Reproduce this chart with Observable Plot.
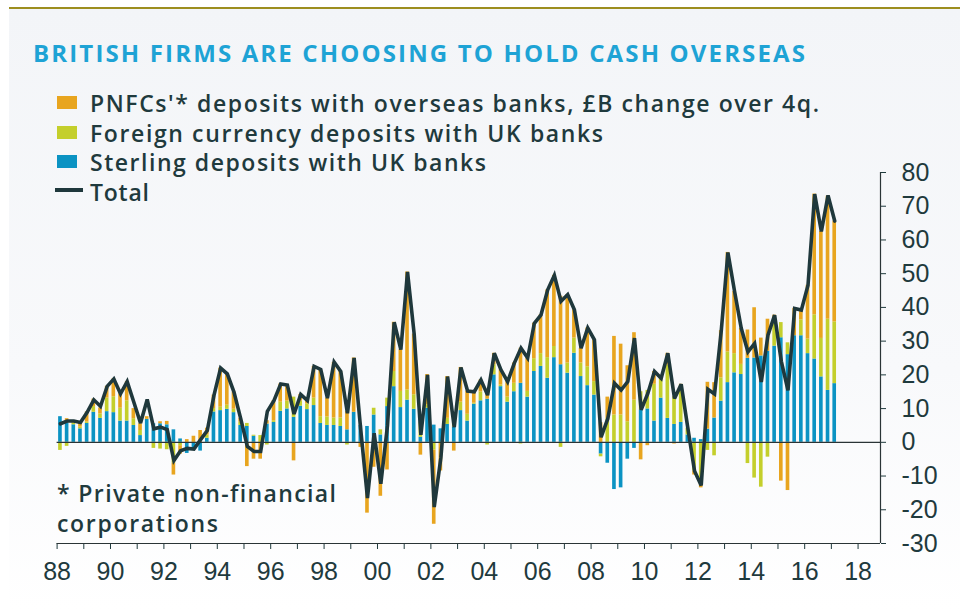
<!DOCTYPE html>
<html><head><meta charset="utf-8">
<script src="https://cdn.jsdelivr.net/npm/d3@7"></script>
<script src="https://cdn.jsdelivr.net/npm/@observablehq/plot@0.6"></script>
<style>
html,body{margin:0;padding:0;background:#fff;}
#wrap{position:relative;width:960px;height:610px;overflow:hidden;}
#panel{position:absolute;left:9px;top:7px;right:0;bottom:0;background:linear-gradient(#f3f5f8,#f8f9fb 60%,#ffffff);border-top:2.5px solid #9d8e1e;}
#chart{position:absolute;left:0;top:0;}
.t{position:absolute;white-space:nowrap;color:#1f3a3d;font-family:"Open Sans";font-weight:600;font-size:23px;line-height:23px;}
#title{color:#1ea3d5;font-family:"Open Sans";font-weight:700;font-size:24px;line-height:24px;}
.sw{position:absolute;left:57px;width:20px;height:13px;}
</style></head><body>
<div id="wrap">
<div id="panel"></div>
<div id="chart"></div>
<div class="t" id="title" data-w="772" style="left:33px;top:41px;">BRITISH FIRMS ARE CHOOSING TO HOLD CASH OVERSEAS</div>
<div class="sw" id="sw0" style="top:96px;"></div>
<div class="t" data-w="729" style="left:90px;top:92px;">PNFCs'* deposits with overseas banks, £B change over 4q.</div>
<div class="sw" id="sw1" style="top:126px;"></div>
<div class="t" data-w="513" style="left:90px;top:122px;">Foreign currency deposits with UK banks</div>
<div class="sw" id="sw2" style="top:155px;"></div>
<div class="t" data-w="396" style="left:90px;top:151px;">Sterling deposits with UK banks</div>
<div style="position:absolute;left:55px;top:188px;width:28px;height:4px;background:#1f383c;"></div>
<div class="t" data-w="59" style="left:90px;top:181px;">Total</div>
<div class="t" data-w="279" style="left:57px;top:482px;">* Private non-financial</div>
<div class="t" data-w="161" style="left:57px;top:512px;">corporations</div>
</div>
<script>
// Quarterly data, 1988 Q1 .. 2017 Q1 (£B change over 4 quarters)
const startYear = 1988;
const seriesNames = ["Sterling deposits with UK banks", "Foreign currency deposits with UK banks", "PNFCs' deposits with overseas banks"];
const seriesColors = ["#0b93c3", "#c4cf2c", "#e8a51f"];

const sterling = [7.6,5.8,5.2,4.0, 5.6,8.9,7.1,9.1, 8.8,6.3,6.3,5.0, 2.0,6.8,5.5,5.5, 5.2,3.7,1.0,-3.3, -2.0,-2.6,1.2,9.0, 9.4,9.8,8.8,5.0, 4.7,1.8,0,5.4, 5.9,9.2,9.9,7.4, 10.7,9.7,10.9,5.6, 5.0,5.0,4.7,3.7, 8.9,5.0,4.7,8.1, 2.2,10.6,16.5,10.3, 12.5,9.8,1.5,10.1, 5.1,4.0,5.3,4.5, 9.4,6.3,11.3,12.3, 12.8,20.0,16.5,11.9, 15.0,17.5,13.4,21.0, 22.5,19.0,25.1,23.0, 20.5,26.4,19.5,16.8, 14.0,-3.5,-6.2,-14.0, -13.5,-5.0,-1.8,9.6, 9.9,6.3,13.1,7.1, 5.3,5.9,2.2,1.2, 0.8,3.9,7.2,12.2, 17.7,20.6,20.1,24.9, 25.0,25.6,27.0,28.5, 31.0,26.0,31.6,31.6, 26.3,24.7,19.4,15.4, 17.4];
const foreign = [-2.4,-1.2,0.5,0.5, 0.4,1.7,1.3,4.0, 4.7,3.8,6.0,2.0, 1.5,0,-1.8,-2.0, -2.2,-6.2,-1.0,0, 0,0,1.0,1.0, 1.0,1.2,1.0,1.0, 0.9,0.3,2.0,-0.8, 0.5,2.7,2.3,6.0, 1.5,1.7,2.2,2.0, 2.5,2.2,2.5,-0.8, 0,0,0,2.0, 1.5,2.5,4.5,4.8, 3.0,4.3,4.5,1.0, -2.3,0,1.8,1.5, 2.5,2.0,0.3,2.6, -0.8,3.0,0.5,1.5, 2.5,-0.5,1.7,3.8, 3.8,6.1,3.3,-1.5, 3.0,4.5,4.0,5.6, 4.0,-0.8,7.0,8.1, 8.1,6.1,12.5,5.4, 5.5,10.9,5.9,15.8, 8.2,11.1,2.0,-8.5, -11.0,-2.4,-4.0,6.9, 9.1,5.7,3.0,-6.3, -10.6,-13.3,-4.4,6.9, 4.5,3.5,0,4.7, 4.3,13.1,11.4,21.1, 18.3];
const overseas = [0,1.2,0.5,1.3, 3.0,2.2,1.8,3.5, 5.3,4.3,5.7,3.0, 2.0,0.8,0,0.6, 1.0,-3.5,-2.5,0.8, 1.8,3.5,2.0,4.0, 11.6,9.3,5.1,1.1, -7.2,-5.0,-5.0,1.0, 6.0,5.4,4.8,-5.5, 2.0,1.0,9.4,14.0, 5.6,16.5,13.8,5.5, 16.1,-1.5,-21.0,-7.4, -16.0,-8.2,14.6,12.4, 35.0,18.0,-3.8,9.0, -22.0,-8.5,12.4,-2.6, 10.3,6.9,3.4,3.6, 1.5,3.4,4.5,4.6, 6.0,10.4,9.9,10.5, 11.5,20.1,21.1,20.3, 20.3,8.4,4.4,11.5, 12.4,5.8,6.4,23.3, 21.0,16.6,20.0,-5.2, -1.0,3.8,0,3.5, -0.5,0.2,0,-1.2, -2.5,13.9,10.5,14.0, 29.5,18.4,10.7,8.4, 14.9,5.3,9.5,2.3, -11.5,-14.3,8.1,3.0, 16.0,35.8,31.7,36.5, 29.9];
const total = [5.5,6.3,6.3,5.9, 8.9,12.6,10.7,16.6, 18.8,14.4,18.0,11.9, 5.7,12.7,4.0,4.5, 3.8,-5.4,-2.5,-1.8, -2.0,0.8,3.5,13.9, 22.0,20.3,14.9,7.1, -1.2,-2.7,-2.7,9.2, 12.4,17.3,17.0,8.4, 14.2,12.4,22.5,21.6, 13.1,23.8,21.0,8.6, 25.0,3.5,-16.5,2.7, -12.3,5.0,35.6,27.5, 50.5,32.0,2.2,20.0, -19.2,-4.5,19.5,4.5, 22.2,15.2,15.0,18.5, 14.0,26.4,21.5,18.0, 23.5,27.9,25.0,35.3, 37.8,45.2,49.5,41.8, 43.8,39.3,27.9,33.9, 30.4,1.5,7.0,17.5, 15.5,18.0,30.9,9.6, 14.5,21.0,19.0,26.4, 13.0,17.2,4.2,-8.5, -12.8,15.7,14.3,33.0, 56.3,44.7,33.8,26.8, 29.3,17.9,31.8,37.7, 24.0,15.4,39.7,39.2, 46.6,73.6,62.5,73.2, 65.6];

const xTicks = d3.range(1988, 2019);
const yTicks = d3.range(-30, 81, 10);
const xDomain = [1988, 2018.84];
const yDomain = [-30, 80];

const quarterTime = i => startYear + i * 0.25 + 0.125;
const halfBar = 0.068;
const bars = [];
[sterling, foreign, overseas].forEach((arr, k) => arr.forEach((v, i) => bars.push({t: quarterTime(i), v, series: seriesNames[k]})));
const lineData = total.map((v, i) => ({t: quarterTime(i), v}));

const chart = Plot.plot({
  width: 960, height: 610,
  marginLeft: 56.6, marginRight: 80, marginTop: 172, marginBottom: 67,
  style: {fontFamily: "Liberation Sans", fontSize: "25px", color: "#1f3a3d", background: "transparent", overflow: "visible"},
  x: {domain: xDomain, ticks: xTicks, tickFormat: d => d % 2 ? "" : String(d % 100).padStart(2, "0"), tickSize: 6, tickPadding: 13, label: null},
  y: {domain: yDomain, ticks: yTicks, tickFormat: d => String(d), axis: "right", tickSize: 5, tickPadding: 16, label: null},
  color: {domain: seriesNames, range: seriesColors},
  marks: [
    Plot.rectY(bars, {x1: d => d.t - halfBar, x2: d => d.t + halfBar, y: "v", fill: "series"}),
    Plot.ruleY([0], {stroke: "#2a3436", strokeWidth: 1.3}),
    Plot.ruleX([xDomain[1]], {stroke: "#2a3436", strokeWidth: 1.2}),
    Plot.ruleY([yDomain[0]], {stroke: "#2a3436", strokeWidth: 1.2}),
    Plot.line(lineData, {x: "t", y: "v", stroke: "#1f383c", strokeWidth: 3.6, strokeLinejoin: "miter", strokeMiterlimit: 3})
  ]
});
document.getElementById("chart").appendChild(chart);
seriesColors.slice().reverse().forEach((c, k) => {
  document.getElementById("sw" + k).style.background = c;
});
document.querySelectorAll("[data-w]").forEach(el => {
  const target = +el.dataset.w;
  const w = el.getBoundingClientRect().width;
  const n = Math.max(1, el.textContent.length - 1);
  el.style.letterSpacing = ((target - w) / n) + "px";
});
</script>
</body></html>
